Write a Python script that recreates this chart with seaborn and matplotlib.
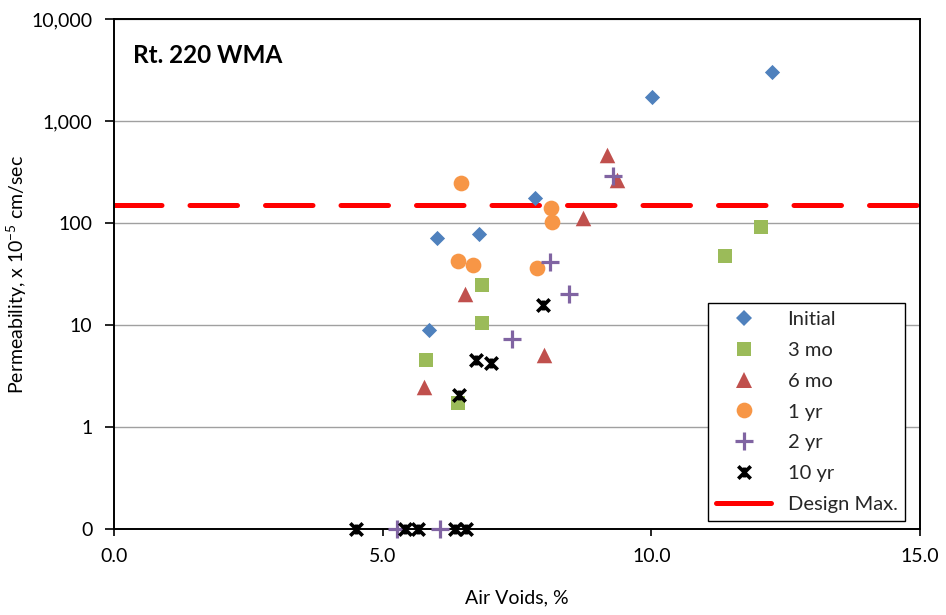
import numpy as np
import pandas as pd
import matplotlib
matplotlib.use("Agg")
import matplotlib.pyplot as plt
from matplotlib.path import Path
from matplotlib.lines import Line2D
import seaborn as sns

# ---------------- data ----------------
initial_x = [5.86, 6.02, 6.79, 7.84, 10.01, 12.24]
initial_y = [9.0, 72, 79, 178, 1720, 3030]

mo3_x = [5.80, 6.40, 6.85, 6.85, 11.38, 12.05]
mo3_y = [4.55, 1.73, 24.6, 10.5, 48, 92]

mo6_x = [5.76, 6.53, 8.00, 8.73, 9.18, 9.37]
mo6_y = [2.5, 20.2, 5.05, 113, 462, 267]

yr1_x = [6.46, 6.40, 6.69, 7.87, 8.13, 8.16]
yr1_y = [250, 42.6, 39.2, 36.6, 141, 103]

yr2_x = [5.26, 6.07, 7.41, 8.11, 8.46, 9.28]
yr2_y = [0, 0, 7.4, 41.9, 20, 290]

yr10_x = [4.50, 5.42, 5.66, 6.35, 6.42, 6.55, 6.74, 7.02, 7.98]
yr10_y = [0, 0, 0, 0, 2.05, 0, 4.6, 4.3, 15.8]

design_max = 150
design_x = [0.0, 15.0]

series_names = ["Initial", "3 mo", "6 mo", "1 yr", "2 yr", "10 yr"]
y_ticks = [0.1, 1, 10, 100, 1000, 10000]
y_tick_labels = ["0", "1", "10", "100", "1,000", "10,000"]
x_ticks = [0, 5, 10, 15]
x_tick_labels = ["0.0", "5.0", "10.0", "15.0"]

# ---------------- style ----------------
sns.set_theme(style="white")
plt.rcParams["font.family"] = ["Lato", "DejaVu Sans"]
plt.rcParams["mathtext.fontset"] = "custom"
plt.rcParams["mathtext.rm"] = "Lato"
plt.rcParams["mathtext.default"] = "regular"

FLOOR = 0.1  # log axis floor where zero readings are shown (labelled "0")

star = Path(
    [(-1, -1), (1, 1), (-1, 1), (1, -1), (0, -0.8), (0, 0.8)],
    [Path.MOVETO, Path.LINETO, Path.MOVETO, Path.LINETO, Path.MOVETO, Path.LINETO],
)

styles = {
    "Initial": dict(marker="D", s=60, color="#4F81BD", lw=0),
    "3 mo": dict(marker="s", s=112, color="#9BBB59", lw=0),
    "6 mo": dict(marker="^", s=125, color="#C0504D", lw=0),
    "1 yr": dict(marker="o", s=128, color="#F79646", lw=0),
    "2 yr": dict(marker="+", s=150, color="#8064A2", lw=2.3),
    "10 yr": dict(marker=star, s=80, color="#000000", lw=2.6),
}
data = {
    "Initial": (initial_x, initial_y),
    "3 mo": (mo3_x, mo3_y),
    "6 mo": (mo6_x, mo6_y),
    "1 yr": (yr1_x, yr1_y),
    "2 yr": (yr2_x, yr2_y),
    "10 yr": (yr10_x, yr10_y),
}

fig = plt.figure(figsize=(9.46, 6.15), dpi=100)
ax = fig.add_axes([114 / 946, 1 - 529.3 / 615, (920 - 114) / 946, (529.3 - 19) / 615])

# design max line
sns.lineplot(x=design_x, y=[design_max] * len(design_x), ax=ax, color="#FF0000",
             linewidth=3.6, linestyle=(0, (9.5, 5.6)), dash_capstyle="round",
             zorder=2, legend=False, estimator=None)

for name in series_names:
    xs, ys = data[name]
    ys = np.where(np.asarray(ys, dtype=float) > 0, ys, FLOOR)
    st = styles[name]
    sns.scatterplot(x=xs, y=ys, ax=ax, marker=st["marker"], s=st["s"],
                    color=st["color"], edgecolor=st["color"], linewidth=st["lw"],
                    clip_on=False, zorder=4, legend=False)

ax.set_yscale("log")
ax.set_ylim(0.1, 10000)
ax.set_xlim(0, 15)
ax.set_yticks(y_ticks)
ax.set_yticklabels(y_tick_labels)
ax.yaxis.set_minor_locator(matplotlib.ticker.NullLocator())
ax.set_xticks(x_ticks)
ax.set_xticklabels(x_tick_labels)

ax.grid(axis="y", color="#A0A0A0", linewidth=1.0)
ax.grid(axis="x", visible=False)
ax.set_axisbelow(True)
for sp in ax.spines.values():
    sp.set_color("black")
    sp.set_linewidth(1.4)
    sp.set_visible(True)

ax.tick_params(axis="x", direction="out", length=4.7, width=1.2, color="black",
               pad=9, labelsize=14, labelcolor="black", bottom=True)
ax.tick_params(axis="y", direction="out", length=6.5, width=1.2, color="black",
               pad=9, labelsize=14, labelcolor="black", left=True)

ax.set_xlabel("Air Voids, %", fontsize=14, color="black")
ax.xaxis.set_label_coords(0.5, -0.117)
ax.set_ylabel("Permeability, x 10$^{-5}$ cm/sec", fontsize=14, color="black")
ax.yaxis.set_label_coords(-0.105, 0.5)

ax.text((133 - 114) / 806, (529.3 - 62.7) / 510.3, "Rt. 220 WMA", transform=ax.transAxes,
        fontsize=17.5, fontweight="bold", va="baseline", ha="left", color="black")

handles = []
for name in series_names:
    st = styles[name]
    ms = np.sqrt(st["s"])
    handles.append(Line2D([], [], linestyle="none", marker=st["marker"], markersize=ms,
                          markerfacecolor=st["color"], markeredgecolor=st["color"],
                          markeredgewidth=st["lw"], label=name))
handles.append(Line2D([], [], color="#FF0000", linewidth=3.6, solid_capstyle="round",
                      label="Design Max."))
leg = ax.legend(handles=handles, loc="upper left",
                bbox_to_anchor=((708 - 114) / 806, (529.3 - 303) / 510.3),
                borderaxespad=0, fontsize=14.5, frameon=True, fancybox=False,
                edgecolor="black", framealpha=1, borderpad=0.4, labelspacing=0.68,
                handlelength=2.75, handletextpad=0.8)
leg.get_frame().set_linewidth(1.0)

fig.savefig("out.png", dpi=100)
